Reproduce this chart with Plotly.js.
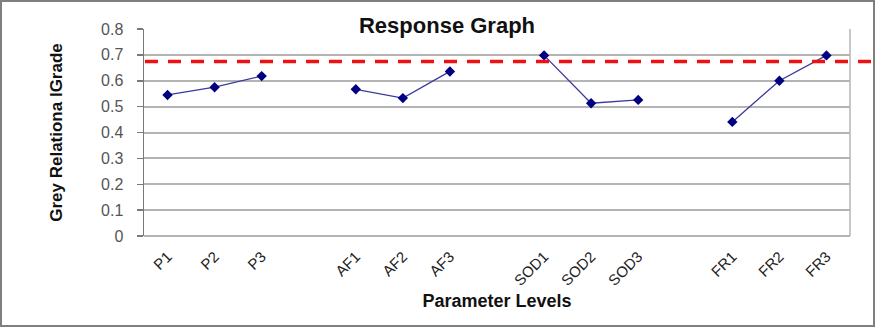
<!DOCTYPE html>
<html>
<head>
<meta charset="utf-8">
<script src="https://cdn.plot.ly/plotly-3.0.1.min.js"></script>
<style>
  html, body { margin: 0; padding: 0; background: #ffffff; }
  #chart { width: 881px; height: 328px; }
</style>
</head>
<body>
<div id="chart"></div>
<script>
// Parameter levels (blank entries are spacer slots between factor groups)
const categories = ['P1', 'P2', 'P3', ' ', 'AF1', 'AF2', 'AF3', '  ', 'SOD1', 'SOD2', 'SOD3', '   ', 'FR1', 'FR2', 'FR3'];
// Grey relational grade per level (null = spacer, no point)
const gradeValues = [0.545, 0.575, 0.618, null, 0.567, 0.533, 0.636, null, 0.698, 0.513, 0.526, null, 0.441, 0.600, 0.698];
// Mean grey relational grade (red dashed reference line)
const meanGrade = 0.674;
const chartTitle = 'Response Graph';
const xTitle = 'Parameter Levels';
const yTitle = 'Grey Relationa lGrade';

const fontFamily = '"Liberation Sans", Arial, sans-serif';

const trace = {
  x: categories,
  y: gradeValues,
  type: 'scatter',
  mode: 'lines+markers',
  connectgaps: false,
  line: { color: '#3a3aa0', width: 1.3 },
  marker: { symbol: 'diamond', size: 8, color: '#000080' },
  hoverinfo: 'x+y',
  showlegend: false
};

const layout = {
  width: 881,
  height: 328,
  margin: { l: 144, r: 31, t: 29, b: 92 },
  paper_bgcolor: '#ffffff',
  plot_bgcolor: 'rgba(0,0,0,0)',
  font: { family: fontFamily, color: '#222222' },
  title: {
    text: '<b>' + chartTitle + '</b>',
    font: { family: fontFamily, size: 22, color: '#111111' },
    xref: 'container', yref: 'container',
    x: 447 / 881, xanchor: 'center',
    y: 1 - 25 / 328, yanchor: 'middle'
  },
  xaxis: {
    type: 'category',
    categoryorder: 'array',
    categoryarray: categories,
    range: [-0.5, categories.length - 0.5],
    showgrid: false,
    showline: false,
    ticks: '',
    tickangle: -45,
    ticklabelstandoff: 8,
    tickfont: { family: fontFamily, size: 15, color: '#222222' },
    title: {
      text: '<b>' + xTitle + '</b>',
      font: { family: fontFamily, size: 18, color: '#111111' },
      standoff: 6
    },
    fixedrange: true
  },
  yaxis: {
    range: [0, 0.8],
    dtick: 0.1,
    tick0: 0,
    tickmode: 'linear',
    showgrid: true,
    gridcolor: '#b4b4b4',
    gridwidth: 2,
    zeroline: true,
    zerolinecolor: '#b4b4b4',
    zerolinewidth: 2,
    showline: true,
    linecolor: '#7a7a7a',
    linewidth: 1.5,
    ticks: 'outside',
    ticklen: 6,
    tickcolor: '#7a7a7a',
    tickwidth: 1.5,
    ticklabelstandoff: 10,
    tickfont: { family: fontFamily, size: 16, color: '#555555' },
    title: {
      text: '<b>' + yTitle + '</b>',
      font: { family: fontFamily, size: 17, color: '#111111' },
      standoff: 34
    },
    fixedrange: true
  },
  shapes: [
    // plot-area right edge
    { type: 'line', xref: 'paper', yref: 'paper', x0: 1, x1: 1, y0: 0, y1: 1,
      line: { color: '#b4b4b4', width: 1.5 }, layer: 'above' },
    // outer chart border
    { type: 'rect', xref: 'paper', yref: 'paper',
      x0: -143 / 706, x1: (874 - 144) / 706,
      y0: (236 - 326) / 207, y1: (236 - 1) / 207,
      fillcolor: 'rgba(0,0,0,0)',
      line: { color: '#7f7f7f', width: 2 }, layer: 'above' },
    // mean grade reference line
    { type: 'line', xref: 'paper', yref: 'y',
      x0: 1 / 706, x1: (879 - 144) / 706,
      y0: meanGrade, y1: meanGrade,
      line: { color: '#ee1111', width: 3.5, dash: '13px,10px' }, layer: 'above' }
  ]
};

Plotly.newPlot('chart', [trace], layout, { displayModeBar: false, staticPlot: true });
</script>
</body>
</html>
